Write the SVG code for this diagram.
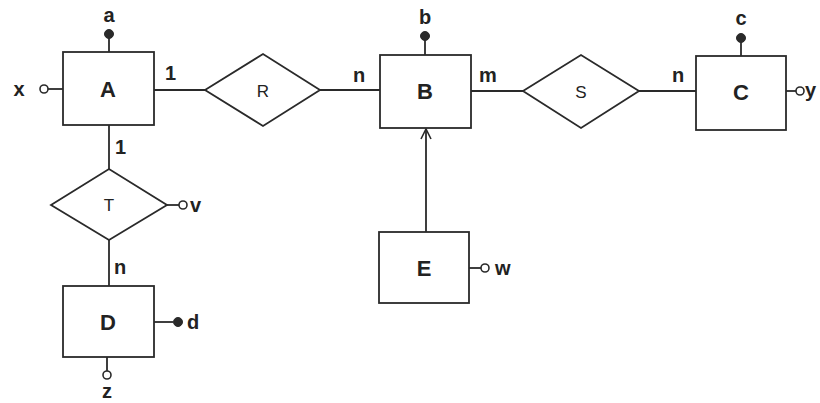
<svg xmlns="http://www.w3.org/2000/svg" width="820" height="403" viewBox="0 0 820 403">
  <style>
    .shape { fill: #fff; stroke: #2a2a2a; stroke-width: 1.8; }
    .edge { fill: none; stroke: #2a2a2a; stroke-width: 1.8; }
    .key { fill: #2a2a2a; stroke: #2a2a2a; stroke-width: 1; }
    .opt { fill: #fff; stroke: #2a2a2a; stroke-width: 1.6; }
    .ent { font-family: "Liberation Sans", Arial, sans-serif; font-size: 22px; font-weight: bold; fill: #222; text-anchor: middle; }
    .rel { font-family: "Liberation Sans", Arial, sans-serif; font-size: 17px; fill: #222; text-anchor: middle; }
    .lbl { font-family: "Liberation Sans", Arial, sans-serif; font-size: 20px; font-weight: bold; fill: #222; }
  </style>
  <defs>
    <marker id="open-head" viewBox="0 0 12 12" refX="11" refY="6" markerWidth="12" markerHeight="12" markerUnits="userSpaceOnUse" orient="auto">
      <path d="M1,1 L11,6 L1,11" fill="none" stroke="#2a2a2a" stroke-width="1.6"/>
    </marker>
  </defs>
  <rect width="820" height="403" fill="#fff"/>

  <g id="connectors">
    <line class="edge" x1="154" y1="90" x2="205" y2="90"/>
    <line class="edge" x1="320" y1="90" x2="380" y2="90"/>
    <line class="edge" x1="471" y1="91" x2="523" y2="91"/>
    <line class="edge" x1="639" y1="91" x2="696" y2="91"/>
    <line class="edge" x1="109" y1="125" x2="109" y2="169"/>
    <line class="edge" x1="109" y1="240" x2="109" y2="286"/>
    <line class="edge" x1="426" y1="232" x2="426" y2="129" marker-end="url(#open-head)"/>
    <text class="lbl" x="165" y="80">1</text>
    <text class="lbl" x="115" y="154">1</text>
    <text class="lbl" x="114" y="274">n</text>
    <text class="lbl" x="353" y="82">n</text>
    <text class="lbl" x="479" y="82">m</text>
    <text class="lbl" x="672" y="82">n</text>
  </g>

  <g id="A">
    <rect class="shape" x="63" y="52" width="91" height="73"/>
    <text class="ent" x="108" y="97">A</text>
    <line class="edge" x1="109" y1="52" x2="109" y2="38"/>
    <circle class="key" cx="109" cy="34" r="4.5"/>
    <text class="lbl" x="109" y="22" text-anchor="middle">a</text>
    <line class="edge" x1="63" y1="89" x2="48" y2="89"/>
    <circle class="opt" cx="44" cy="89" r="4"/>
    <text class="lbl" x="19" y="96" text-anchor="middle">x</text>
  </g>

  <g id="R">
    <polygon class="shape" points="205,90 263,54 320,90 263,126"/>
    <text class="rel" x="263" y="97">R</text>
  </g>

  <g id="B">
    <rect class="shape" x="380" y="55" width="91" height="73"/>
    <text class="ent" x="425" y="99">B</text>
    <line class="edge" x1="425" y1="55" x2="425" y2="40"/>
    <circle class="key" cx="425" cy="36" r="4.5"/>
    <text class="lbl" x="425" y="24" text-anchor="middle">b</text>
  </g>

  <g id="S">
    <polygon class="shape" points="523,91 581,55 639,91 581,128"/>
    <text class="rel" x="581" y="98">S</text>
  </g>

  <g id="C">
    <rect class="shape" x="696" y="56" width="90" height="74"/>
    <text class="ent" x="741" y="100">C</text>
    <line class="edge" x1="741" y1="56" x2="741" y2="42"/>
    <circle class="key" cx="741" cy="38" r="4.5"/>
    <text class="lbl" x="741" y="25" text-anchor="middle">c</text>
    <line class="edge" x1="786" y1="91" x2="796" y2="91"/>
    <circle class="opt" cx="800" cy="91" r="4"/>
    <text class="lbl" x="805" y="97">y</text>
  </g>

  <g id="T">
    <polygon class="shape" points="51,205 109,169 167,205 109,240"/>
    <text class="rel" x="109" y="211">T</text>
    <line class="edge" x1="167" y1="205" x2="179" y2="205"/>
    <circle class="opt" cx="183" cy="205" r="4"/>
    <text class="lbl" x="190" y="212">v</text>
  </g>

  <g id="D">
    <rect class="shape" x="63" y="286" width="91" height="71"/>
    <text class="ent" x="108" y="330">D</text>
    <line class="edge" x1="154" y1="322" x2="173" y2="322"/>
    <circle class="key" cx="178" cy="322" r="4.5"/>
    <text class="lbl" x="187" y="329">d</text>
    <line class="edge" x1="107" y1="357" x2="107" y2="371"/>
    <circle class="opt" cx="107" cy="375" r="4"/>
    <text class="lbl" x="107" y="398" text-anchor="middle">z</text>
  </g>

  <g id="E">
    <rect class="shape" x="379" y="232" width="90" height="71"/>
    <text class="ent" x="424" y="276">E</text>
    <line class="edge" x1="469" y1="268" x2="481" y2="268"/>
    <circle class="opt" cx="485" cy="268" r="4"/>
    <text class="lbl" x="495" y="275">w</text>
  </g>
</svg>
